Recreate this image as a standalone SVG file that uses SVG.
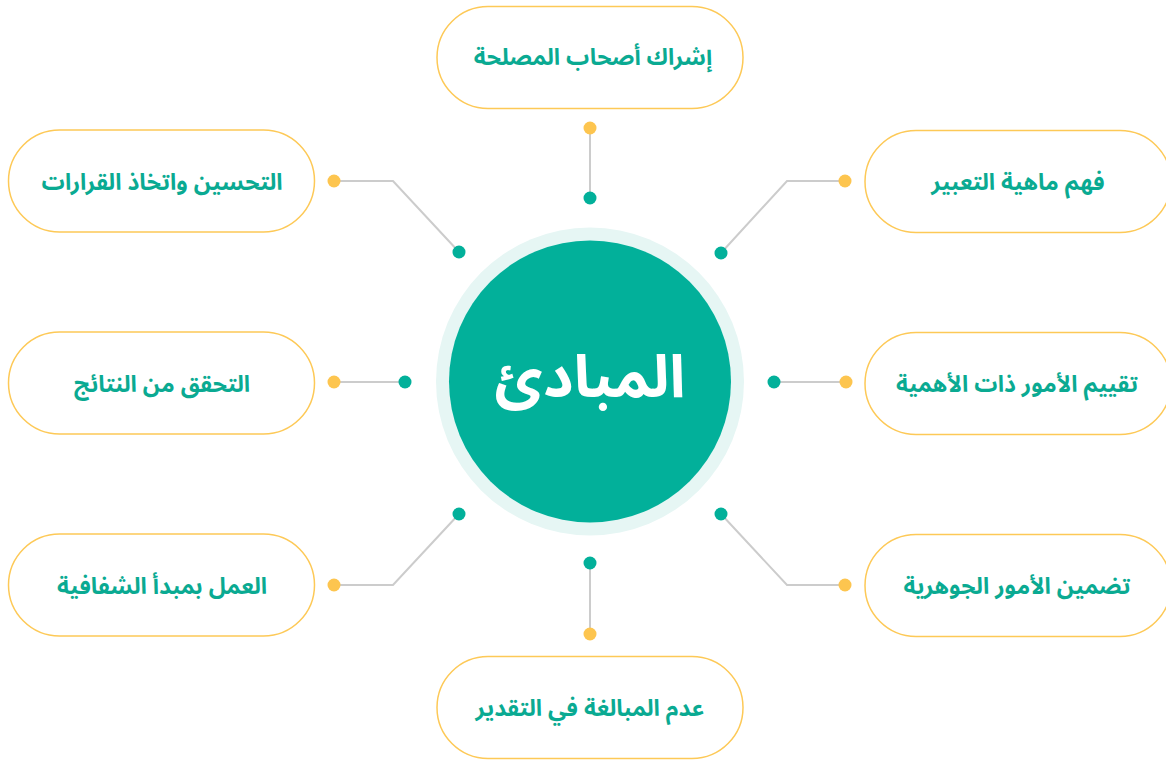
<svg xmlns="http://www.w3.org/2000/svg" width="1166" height="761" viewBox="0 0 1166 761">
<style>
.pill{fill:#ffffff;stroke:#fdc957;stroke-width:1.5}
.lbl{font-family:"Noto Sans Arabic","Noto Kufi Arabic","DejaVu Sans",sans-serif;font-weight:bold;font-size:23px;fill:#0aaa92;text-anchor:middle;direction:rtl}
.ln{fill:none;stroke:#cccccc;stroke-width:2}
.yd{fill:#fdc54f}
.td{fill:#02b09a}
.title{font-family:"Noto Sans Arabic","Noto Kufi Arabic","DejaVu Sans",sans-serif;font-weight:bold;font-size:59px;fill:#ffffff;text-anchor:middle;direction:rtl}
</style>
<rect width="1166" height="761" fill="#ffffff"/>
<g id="connectors">
<line class="ln" x1="590" y1="128" x2="590" y2="198"/>
<polyline class="ln" points="334,181 393,181 459,252"/>
<polyline class="ln" points="845,181 787,181 721,253"/>
<line class="ln" x1="334" y1="382" x2="405" y2="382"/>
<line class="ln" x1="846" y1="382" x2="774" y2="382"/>
<polyline class="ln" points="334,585 393,585 459,514"/>
<polyline class="ln" points="845,585 787,585 721,514"/>
<line class="ln" x1="590" y1="563" x2="590" y2="634"/>
<circle class="yd" cx="590" cy="128" r="6.5"/><circle class="td" cx="590" cy="198" r="6.5"/>
<circle class="yd" cx="334" cy="181" r="6.5"/><circle class="td" cx="459" cy="252" r="6.5"/>
<circle class="yd" cx="845" cy="181" r="6.5"/><circle class="td" cx="721" cy="253" r="6.5"/>
<circle class="yd" cx="334" cy="382" r="6.5"/><circle class="td" cx="405" cy="382" r="6.5"/>
<circle class="yd" cx="846" cy="382" r="6.5"/><circle class="td" cx="774" cy="382" r="6.5"/>
<circle class="yd" cx="334" cy="585" r="6.5"/><circle class="td" cx="459" cy="514" r="6.5"/>
<circle class="yd" cx="845" cy="585" r="6.5"/><circle class="td" cx="721" cy="514" r="6.5"/>
<circle class="td" cx="590" cy="563" r="6.5"/><circle class="yd" cx="590" cy="634" r="6.5"/>
</g>
<g id="center">
<circle cx="590" cy="381.5" r="154" fill="#e6f6f4"/>
<circle cx="590" cy="381.5" r="141" fill="#02b09a"/>
<text class="title" x="590" y="397">المبادئ</text>
</g>
<g id="n1"><rect class="pill" x="437" y="6.5" width="306" height="102" rx="51"/><text class="lbl" x="593" y="65">إشراك أصحاب المصلحة</text></g>
<g id="n2"><rect class="pill" x="865" y="130.5" width="306" height="102" rx="51"/><text class="lbl" x="1018" y="190">فهم ماهية التعبير</text></g>
<g id="n3"><rect class="pill" x="865" y="332.5" width="306" height="102" rx="51"/><text class="lbl" x="1017" y="392">تقييم الأمور ذات الأهمية</text></g>
<g id="n4"><rect class="pill" x="865" y="534.5" width="306" height="102" rx="51"/><text class="lbl" x="1017" y="594">تضمين الأمور الجوهرية</text></g>
<g id="n5"><rect class="pill" x="437" y="656.5" width="306" height="102" rx="51"/><text class="lbl" x="590" y="716">عدم المبالغة في التقدير</text></g>
<g id="n6"><rect class="pill" x="8.5" y="534" width="306" height="102" rx="51"/><text class="lbl" x="162" y="594">العمل بمبدأ الشفافية</text></g>
<g id="n7"><rect class="pill" x="8.5" y="332" width="306" height="102" rx="51"/><text class="lbl" x="162" y="392">التحقق من النتائج</text></g>
<g id="n8"><rect class="pill" x="8.5" y="130" width="306" height="102" rx="51"/><text class="lbl" x="162" y="190">التحسين واتخاذ القرارات</text></g>
</svg>
